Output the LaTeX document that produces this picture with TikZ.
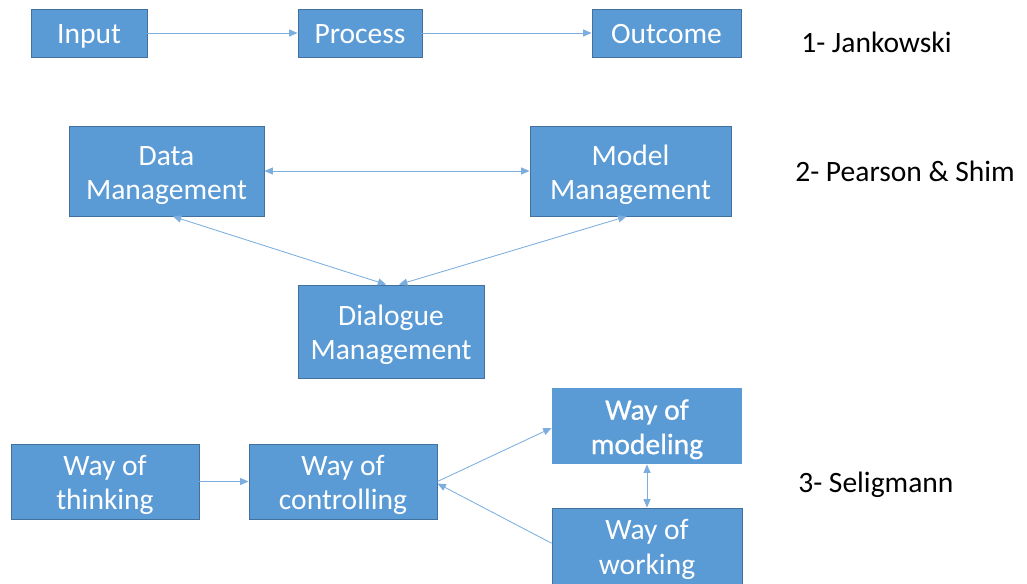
\documentclass[tikz,border=0pt]{standalone}
\usepackage{fontspec}
\setmainfont{Carlito}
\newfontfamily\thickfont{Carlito}[FakeBold=0.8]
\usetikzlibrary{arrows.meta,positioning}
\definecolor{boxblue}{HTML}{5B9BD5}
\definecolor{boxedge}{HTML}{41719C}
\definecolor{linkblue}{HTML}{7BAEDE}

\begin{document}
\begin{tikzpicture}[x=0.025cm, y=-0.025cm, >={Triangle[length=6pt,width=5pt]},
  box/.style={draw=boxedge, fill=boxblue, text=white, align=center, inner sep=0pt, line width=0.6pt,
    font=\fontsize{21}{24.5}\selectfont,
    execute at begin node=\rule{0pt}{#1}, execute at end node=\rule[-4pt]{0pt}{4pt}},
  box/.default=19pt,
  link/.style={draw=linkblue, line width=0.6pt},
  tag/.style={anchor=base west, inner sep=0pt, font=\fontsize{21}{24}\selectfont}]
\useasboundingbox (0,0) rectangle (1027,584);
% 1- Jankowski
\node[box, minimum width=2.9cm, minimum height=1.2cm] (in) at (89,33) {Input};
\node[box, minimum width=3.1cm, minimum height=1.2cm] (proc) at (360,33) {Process};
\node[box, minimum width=3.725cm, minimum height=1.2cm] (out) at (666.5,33) {Outcome};
\draw[link,->] (in) -- (proc); \draw[link,->] (proc) -- (out);
\node[tag] (t1) at (801,53) {1- Jankowski};
% 2- Pearson & Shim
\node[box=44.5pt, minimum width=4.875cm, minimum height=2.25cm] (data) at (166.5,171) {Data\\Management};
\node[box=44.5pt, minimum width=5.025cm, minimum height=2.25cm] (model) at (630.5,171) {Model\\Management};
\node[box=44.5pt, minimum width=4.65cm, minimum height=2.325cm] (dlg) at (391,331.5) {Dialogue\\Management};
\draw[link,<->] (data) -- (model);
\draw[link,<->] ([xshift=-0.12cm]dlg.north) -- ([xshift=0.16cm]data.south);
\draw[link,<->] ([xshift=0.2cm]dlg.north) -- ([xshift=-0.1cm]model.south);
\node[tag] (t2) at (795,182) {2- Pearson \& Shim};
% 3- Seligmann
\node[box=44pt, minimum width=4.7cm, minimum height=1.875cm] (think) at (105,481.5) {Way of\\thinking};
\node[box=44pt, minimum width=4.7cm, minimum height=1.875cm] (ctrl) at (343,481.5) {Way of\\controlling};
\node[box=44pt, draw=none, minimum width=4.75cm, minimum height=1.9cm, font=\fontsize{21}{24.5}\thickfont] (mdl) at (647,426) {Way of\\modeling};
\node[box=44pt, minimum width=4.75cm, minimum height=1.9cm] (work) at (647,546) {Way of\\working};
\draw[link,->] (think) -- (ctrl);
\draw[link,->] (ctrl.east) -- ([yshift=-0.05cm]mdl.west);
\draw[link,->] ([yshift=0.07cm]work.west) -- ([yshift=-0.05cm]ctrl.east);
\draw[link,<->] (mdl) -- (work);
\node[tag] (t3) at (798,492) {3- Seligmann};
\end{tikzpicture}
\end{document}
